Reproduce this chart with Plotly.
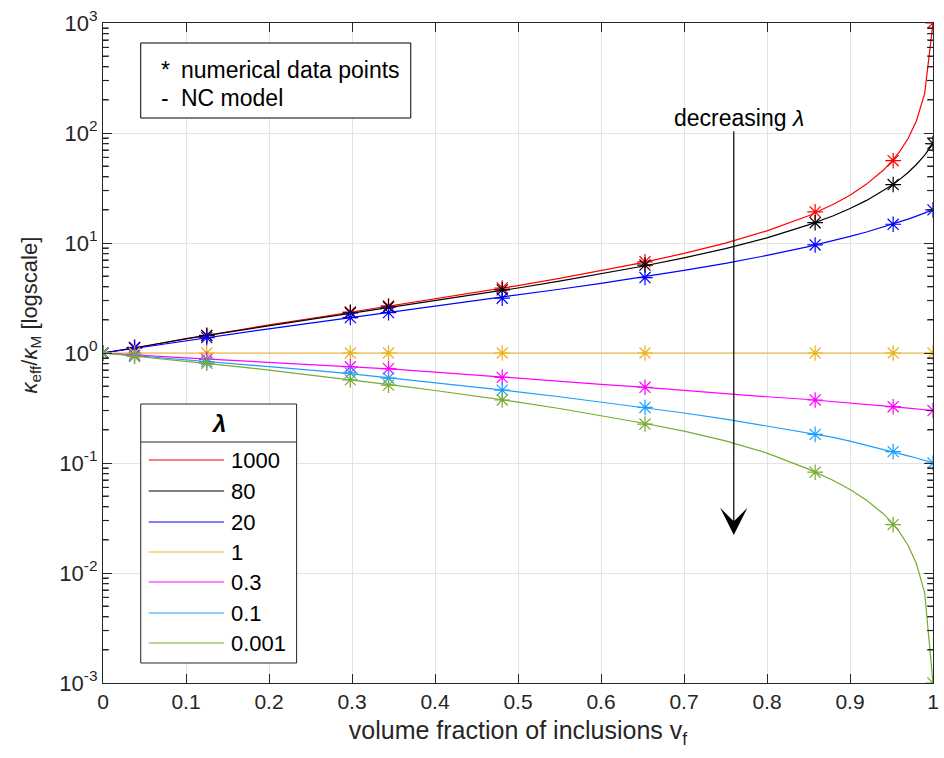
import math
import plotly.graph_objects as go

# Volume fractions of the numerical (FE) samples
V_DATA = [0, 0.038, 0.125, 0.298, 0.344, 0.481, 0.653, 0.858, 0.952, 1.0]

# Numerical effective conductivity ratios, one list per contrast lambda
DATA_1000 = [1, 1.125, 1.45, 2.36, 2.68, 3.9, 6.75, 19.2, 56, 1000]
DATA_80 = [1, 1.12, 1.44, 2.32, 2.62, 3.75, 6.3, 15.3, 34, 80]
DATA_20 = [1, 1.11, 1.38, 2.1, 2.33, 3.15, 4.85, 9.6, 14.8, 20]
DATA_1 = [1, 1, 1, 1, 1, 1, 1, 1, 1, 1]
DATA_03 = [1, 0.955, 0.876, 0.75, 0.72, 0.60, 0.488, 0.374, 0.325, 0.3]
DATA_01 = [1, 0.94, 0.834, 0.66, 0.59, 0.46, 0.32, 0.182, 0.127, 0.1]
DATA_0001 = [1, 0.93, 0.806, 0.57, 0.51, 0.374, 0.226, 0.0825, 0.0275, 0.001]

# NC model curves sampled on a common volume-fraction grid
V_LINE = [0, 0.05, 0.1, 0.15, 0.2, 0.25, 0.3, 0.35, 0.4, 0.45, 0.5, 0.55, 0.6,
          0.65, 0.7, 0.75, 0.8, 0.85, 0.88, 0.9, 0.92, 0.94, 0.95, 0.96, 0.97,
          0.98, 0.99, 1.0]
NC_1000 = [1, 1.157, 1.36, 1.57, 1.80, 2.06, 2.36, 2.70, 3.09, 3.55, 4.10, 4.76,
           5.58, 6.64, 8.04, 9.98, 12.9, 17.7, 22.5, 27.2, 34.3, 45.8, 54.8,
           68.0, 89.2, 128.8, 229, 1000]
NC_80 = [1, 1.152, 1.35, 1.55, 1.77, 2.02, 2.30, 2.62, 2.98, 3.40, 3.90, 4.50,
         5.24, 6.15, 7.33, 8.9, 11.15, 14.6, 17.7, 20.6, 24.4, 29.8, 33.4, 37.9,
         43.8, 51.7, 62.9, 80]
NC_20 = [1, 1.135, 1.30, 1.47, 1.66, 1.87, 2.10, 2.36, 2.65, 2.98, 3.36, 3.80,
         4.30, 4.90, 5.63, 6.52, 7.71, 9.28, 10.5, 11.47, 12.6, 13.94, 14.71,
         15.55, 16.49, 17.53, 18.69, 20]
NC_1 = [1] * len(V_LINE)
NC_03 = [1, 0.944, 0.902, 0.861, 0.822, 0.785, 0.750, 0.713, 0.671, 0.628, 0.587,
         0.552, 0.519, 0.490, 0.456, 0.427, 0.400, 0.378, 0.363, 0.351, 0.341,
         0.331, 0.327, 0.321, 0.316, 0.310, 0.305, 0.3]
NC_01 = [1, 0.933, 0.863, 0.807, 0.753, 0.700, 0.646, 0.589, 0.537, 0.490, 0.444,
         0.400, 0.359, 0.322, 0.285, 0.251, 0.216, 0.187, 0.171, 0.158, 0.145,
         0.134, 0.128, 0.122, 0.116, 0.111, 0.105, 0.1]
NC_0001 = [1, 0.920, 0.842, 0.769, 0.700, 0.632, 0.567, 0.510, 0.456, 0.405, 0.358,
           0.313, 0.270, 0.231, 0.195, 0.159, 0.123, 0.088, 0.0694, 0.0575,
           0.0458, 0.0346, 0.029, 0.0234, 0.0178, 0.0122, 0.0066, 0.001]

LAMBDA_LABELS = ["1000", "80", "20", "1", "0.3", "0.1", "0.001"]
COLORS = ["#ff0000", "#000000", "#0000ff", "#edb120", "#ff00ff", "#1a9fff", "#77ac30"]
DATA_SERIES = [DATA_1000, DATA_80, DATA_20, DATA_1, DATA_03, DATA_01, DATA_0001]
NC_SERIES = [NC_1000, NC_80, NC_20, NC_1, NC_03, NC_01, NC_0001]

X_TICKS = [0, 0.1, 0.2, 0.3, 0.4, 0.5, 0.6, 0.7, 0.8, 0.9, 1.0]
X_TICK_TEXT = ["0", "0.1", "0.2", "0.3", "0.4", "0.5", "0.6", "0.7", "0.8", "0.9", "1"]
Y_TICKS = [1e-3, 1e-2, 1e-1, 1e0, 1e1, 1e2, 1e3]
Y_TICK_TEXT = ["10<sup>-3</sup>", "10<sup>-2</sup>", "10<sup>-1</sup>", "10<sup>0</sup>",
               "10<sup>1</sup>", "10<sup>2</sup>", "10<sup>3</sup>"]
Y_LOG_RANGE = [-3, 3]

W, H = 944, 758
ML, MR, MT, MB = 103, 5, 23, 75
PW, PH = W - ML - MR, H - MT - MB
FONT = "Liberation Sans, Arial, sans-serif"
AX = "#262626"


def px(xpix):
    return (xpix - ML) / PW


def py(ypix):
    return (H - MB - ypix) / PH


fig = go.Figure()

for lab, col, nc, dat in zip(LAMBDA_LABELS, COLORS, NC_SERIES, DATA_SERIES):
    fig.add_trace(go.Scatter(x=V_LINE, y=nc, mode="lines", name=lab,
                             line=dict(color=col, width=1.2), showlegend=False))
    fig.add_trace(go.Scatter(x=V_DATA, y=dat, mode="markers", name=lab,
                             marker=dict(symbol="asterisk-open", size=13, color=col,
                                         line=dict(color=col, width=1.2)),
                             showlegend=False))

fig.update_xaxes(range=[0, 1], tickmode="array", tickvals=X_TICKS, ticktext=X_TICK_TEXT,
                 ticks="inside", ticklen=9, tickwidth=1.2, tickcolor=AX, showline=True,
                 linecolor=AX, linewidth=1.2, mirror="ticks", showgrid=True,
                 gridcolor="#e3e3e3", gridwidth=1, zeroline=False,
                 ticklabeloverflow="allow",
                 tickfont=dict(family=FONT, size=21, color=AX),
                 title=dict(text="volume fraction of inclusions v<sub>f</sub>",
                            font=dict(family=FONT, size=25, color=AX), standoff=9))
fig.update_yaxes(type="log", range=Y_LOG_RANGE, tickmode="array", tickvals=Y_TICKS,
                 ticktext=Y_TICK_TEXT, ticks="inside", ticklen=9, tickwidth=1.2,
                 tickcolor=AX, showline=True, linecolor=AX, linewidth=1.2, mirror="ticks",
                 showgrid=True, gridcolor="#e3e3e3", gridwidth=1, zeroline=False,
                 ticklabeloverflow="allow",
                 minor=dict(ticks="inside", ticklen=5, tickwidth=1.2, tickcolor=AX,
                            dtick="D1", showgrid=False),
                 tickfont=dict(family=FONT, size=22, color=AX))

shapes = []
annotations = []

# Minor log ticks (2..9 per decade) on the left and right frame edges
tick_frac = 6 / PW
span = Y_LOG_RANGE[1] - Y_LOG_RANGE[0]
for e in range(Y_LOG_RANGE[0], Y_LOG_RANGE[1]):
    for m in range(2, 10):
        yp = (e + math.log10(m) - Y_LOG_RANGE[0]) / span
        for x0, x1 in [(0, tick_frac), (1 - tick_frac, 1)]:
            shapes.append(dict(type="line", xref="paper", yref="paper", x0=x0, x1=x1,
                               y0=yp, y1=yp, line=dict(color=AX, width=1.2),
                               layer="above"))

# Rotated y-axis label
annotations.append(dict(xref="paper", yref="paper", x=px(30), y=py(315),
                        text="<i>κ</i><sub>eff</sub>/<i>κ</i><sub>M</sub> [logscale]",
                        textangle=-90, showarrow=False, xanchor="center", yanchor="middle",
                        font=dict(family=FONT, size=22, color=AX)))

# Marker/line key box
shapes.append(dict(type="rect", xref="paper", yref="paper", x0=px(141), x1=px(413),
                   y0=py(118), y1=py(43), line=dict(color="#000000", width=1),
                   fillcolor="white", layer="above"))
for sym, txt, ypix in [("*", "numerical data points", 70), ("-", "NC model", 98)]:
    annotations.append(dict(xref="paper", yref="paper", x=px(159), y=py(ypix), text=sym,
                            showarrow=False, xanchor="left", yanchor="middle",
                            font=dict(family=FONT, size=23, color="#000000")))
    annotations.append(dict(xref="paper", yref="paper", x=px(180), y=py(ypix), text=txt,
                            showarrow=False, xanchor="left", yanchor="middle",
                            font=dict(family=FONT, size=23, color="#000000")))

# Lambda legend box
shapes.append(dict(type="rect", xref="paper", yref="paper", x0=px(141), x1=px(298),
                   y0=py(663), y1=py(404), line=dict(color="#262626", width=1),
                   fillcolor="white", layer="above"))
shapes.append(dict(type="line", xref="paper", yref="paper", x0=px(141), x1=px(298),
                   y0=py(442), y1=py(442), line=dict(color="#262626", width=1),
                   layer="above"))
annotations.append(dict(xref="paper", yref="paper", x=px(219.5), y=py(423),
                        text="<b><i>λ</i></b>", showarrow=False, xanchor="center",
                        yanchor="middle", font=dict(family=FONT, size=24, color="#000000")))
entry_y = [460, 491, 522, 552, 582, 613, 643]
for lab, col, ypix in zip(LAMBDA_LABELS, COLORS, entry_y):
    shapes.append(dict(type="line", xref="paper", yref="paper", x0=px(149), x1=px(225),
                       y0=py(ypix), y1=py(ypix), line=dict(color=col, width=1.2),
                       layer="above"))
    annotations.append(dict(xref="paper", yref="paper", x=px(230), y=py(ypix), text=lab,
                            showarrow=False, xanchor="left", yanchor="middle",
                            font=dict(family=FONT, size=22, color="#000000")))

# "decreasing lambda" arrow
annotations.append(dict(x=0.76, y=-1.655, ax=0.76, ay=2.03, xref="x", yref="y",
                        axref="x", ayref="y", text="", showarrow=True, arrowhead=3,
                        arrowsize=3.8, arrowwidth=1.2, arrowcolor="#000000"))
annotations.append(dict(x=0.766, y=2.136, xref="x", yref="y", text="decreasing <i>λ</i>",
                        showarrow=False, xanchor="center", yanchor="middle",
                        font=dict(family=FONT, size=23, color="#000000")))

fig.update_layout(width=W, height=H, margin=dict(l=ML, r=MR, t=MT, b=MB),
                  paper_bgcolor="white", plot_bgcolor="white", showlegend=False,
                  shapes=shapes, annotations=annotations,
                  font=dict(family=FONT, color=AX))

fig.write_html("out.html")
